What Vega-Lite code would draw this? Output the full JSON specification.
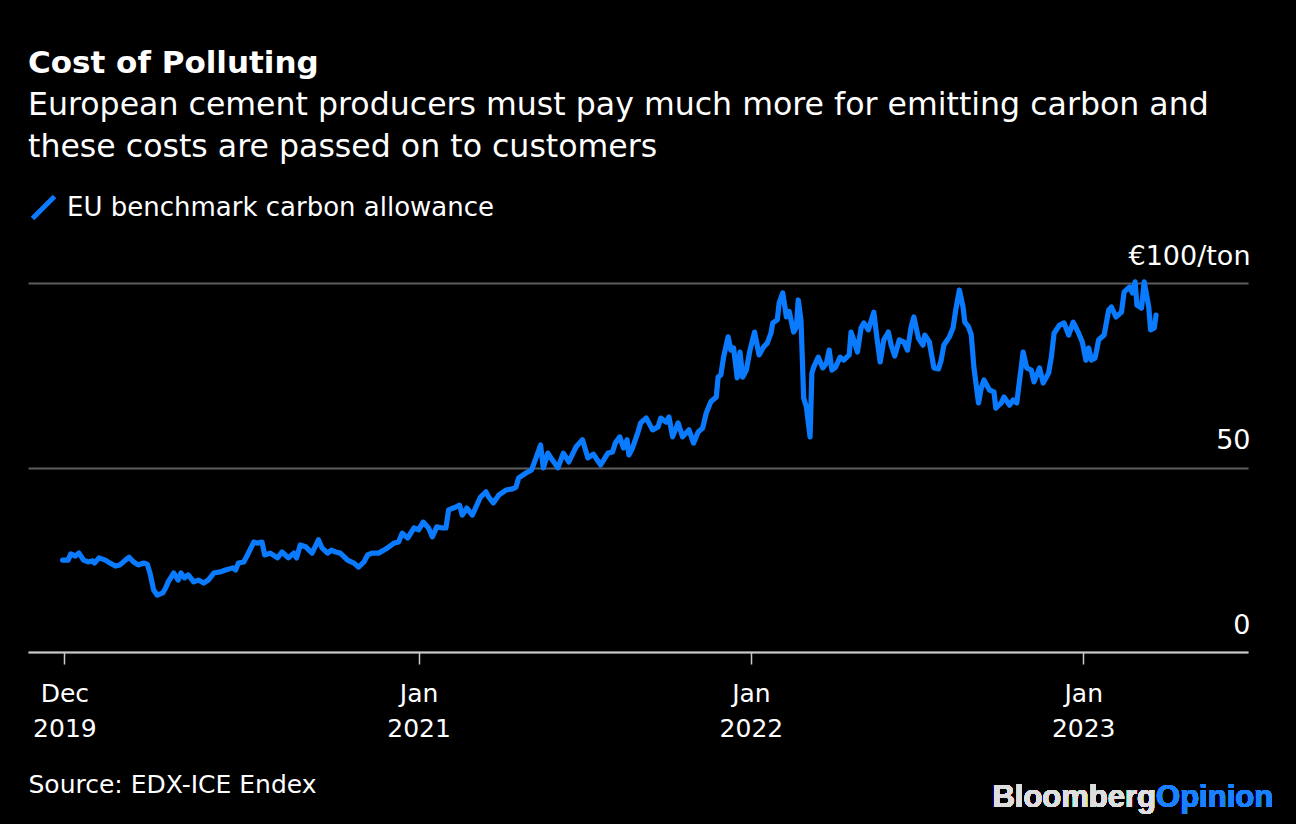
{
  "$schema": "https://vega.github.io/schema/vega-lite/v6.json",
  "width": 1220,
  "height": 369,
  "autosize": {"type": "none"},
  "padding": {"left": 28, "top": 283, "right": 48, "bottom": 172},
  "background": "#000000",
  "config": {
    "view": {"stroke": null},
    "font": "DejaVu Sans"
  },
  "title": {
    "text": "Cost of Polluting",
    "subtitle": ["European cement producers must pay much more for emitting carbon and", "these costs are passed on to customers"],
    "anchor": "start",
    "frame": "group",
    "font": "DejaVu Sans",
    "fontSize": 31,
    "fontWeight": "bold",
    "color": "#ffffff",
    "subtitleFont": "DejaVu Sans",
    "subtitleFontSize": 31.6,
    "subtitleColor": "#ffffff",
    "subtitleLineHeight": 42,
    "subtitlePadding": 10,
    "offset": 29
  },
  "data": {
    "values": [
      {"date": "2019-12-07", "value": 24.9},
      {"date": "2019-12-13", "value": 24.9},
      {"date": "2019-12-16", "value": 26.6},
      {"date": "2019-12-21", "value": 26.0},
      {"date": "2019-12-25", "value": 26.8},
      {"date": "2019-12-30", "value": 24.9},
      {"date": "2020-01-04", "value": 24.4},
      {"date": "2020-01-09", "value": 24.7},
      {"date": "2020-01-11", "value": 24.1},
      {"date": "2020-01-16", "value": 25.5},
      {"date": "2020-01-23", "value": 24.9},
      {"date": "2020-01-28", "value": 24.1},
      {"date": "2020-02-03", "value": 23.3},
      {"date": "2020-02-08", "value": 23.6},
      {"date": "2020-02-14", "value": 24.9},
      {"date": "2020-02-18", "value": 25.7},
      {"date": "2020-02-23", "value": 24.4},
      {"date": "2020-02-28", "value": 23.6},
      {"date": "2020-03-05", "value": 24.1},
      {"date": "2020-03-09", "value": 23.8},
      {"date": "2020-03-12", "value": 21.4},
      {"date": "2020-03-16", "value": 16.8},
      {"date": "2020-03-20", "value": 15.4},
      {"date": "2020-03-26", "value": 16.0},
      {"date": "2020-03-29", "value": 17.3},
      {"date": "2020-04-01", "value": 19.0},
      {"date": "2020-04-07", "value": 21.4},
      {"date": "2020-04-12", "value": 19.5},
      {"date": "2020-04-15", "value": 21.4},
      {"date": "2020-04-19", "value": 20.1},
      {"date": "2020-04-23", "value": 20.9},
      {"date": "2020-04-29", "value": 19.0},
      {"date": "2020-05-04", "value": 19.5},
      {"date": "2020-05-10", "value": 18.7},
      {"date": "2020-05-15", "value": 19.5},
      {"date": "2020-05-21", "value": 21.4},
      {"date": "2020-05-28", "value": 21.7},
      {"date": "2020-06-03", "value": 22.2},
      {"date": "2020-06-11", "value": 22.8},
      {"date": "2020-06-14", "value": 22.2},
      {"date": "2020-06-17", "value": 24.1},
      {"date": "2020-06-23", "value": 24.4},
      {"date": "2020-06-27", "value": 26.3},
      {"date": "2020-07-04", "value": 29.8},
      {"date": "2020-07-08", "value": 29.5},
      {"date": "2020-07-13", "value": 29.8},
      {"date": "2020-07-16", "value": 26.3},
      {"date": "2020-07-22", "value": 26.8},
      {"date": "2020-07-30", "value": 25.5},
      {"date": "2020-08-04", "value": 27.1},
      {"date": "2020-08-11", "value": 25.5},
      {"date": "2020-08-17", "value": 26.8},
      {"date": "2020-08-20", "value": 25.5},
      {"date": "2020-08-24", "value": 29.0},
      {"date": "2020-08-30", "value": 28.5},
      {"date": "2020-09-06", "value": 26.8},
      {"date": "2020-09-13", "value": 30.4},
      {"date": "2020-09-17", "value": 28.2},
      {"date": "2020-09-23", "value": 26.8},
      {"date": "2020-09-27", "value": 27.6},
      {"date": "2020-10-02", "value": 27.1},
      {"date": "2020-10-07", "value": 26.8},
      {"date": "2020-10-15", "value": 24.9},
      {"date": "2020-10-22", "value": 24.1},
      {"date": "2020-10-27", "value": 23.0},
      {"date": "2020-11-02", "value": 24.4},
      {"date": "2020-11-06", "value": 26.3},
      {"date": "2020-11-11", "value": 26.8},
      {"date": "2020-11-18", "value": 26.8},
      {"date": "2020-11-26", "value": 27.9},
      {"date": "2020-12-05", "value": 29.5},
      {"date": "2020-12-10", "value": 29.8},
      {"date": "2020-12-14", "value": 32.2},
      {"date": "2020-12-20", "value": 30.9},
      {"date": "2020-12-27", "value": 33.6},
      {"date": "2021-01-01", "value": 33.1},
      {"date": "2021-01-06", "value": 35.2},
      {"date": "2021-01-12", "value": 33.6},
      {"date": "2021-01-16", "value": 31.2},
      {"date": "2021-01-21", "value": 33.9},
      {"date": "2021-01-27", "value": 33.6},
      {"date": "2021-01-31", "value": 33.6},
      {"date": "2021-02-03", "value": 38.5},
      {"date": "2021-02-11", "value": 39.3},
      {"date": "2021-02-15", "value": 39.8},
      {"date": "2021-02-18", "value": 37.1},
      {"date": "2021-02-23", "value": 39.0},
      {"date": "2021-03-01", "value": 37.1},
      {"date": "2021-03-10", "value": 42.0},
      {"date": "2021-03-16", "value": 43.4},
      {"date": "2021-03-19", "value": 42.0},
      {"date": "2021-03-24", "value": 40.4},
      {"date": "2021-03-30", "value": 42.5},
      {"date": "2021-04-07", "value": 43.9},
      {"date": "2021-04-14", "value": 44.2},
      {"date": "2021-04-18", "value": 44.7},
      {"date": "2021-04-21", "value": 47.2},
      {"date": "2021-04-29", "value": 48.5},
      {"date": "2021-05-05", "value": 49.3},
      {"date": "2021-05-10", "value": 52.6},
      {"date": "2021-05-15", "value": 56.1},
      {"date": "2021-05-18", "value": 49.9},
      {"date": "2021-05-23", "value": 53.9},
      {"date": "2021-05-28", "value": 52.0},
      {"date": "2021-06-03", "value": 49.9},
      {"date": "2021-06-09", "value": 53.9},
      {"date": "2021-06-15", "value": 51.5},
      {"date": "2021-06-23", "value": 55.6},
      {"date": "2021-06-30", "value": 57.5},
      {"date": "2021-07-06", "value": 52.6},
      {"date": "2021-07-12", "value": 53.6},
      {"date": "2021-07-20", "value": 50.7},
      {"date": "2021-07-28", "value": 53.9},
      {"date": "2021-08-02", "value": 54.2},
      {"date": "2021-08-05", "value": 56.6},
      {"date": "2021-08-10", "value": 58.3},
      {"date": "2021-08-14", "value": 55.3},
      {"date": "2021-08-18", "value": 57.5},
      {"date": "2021-08-20", "value": 53.4},
      {"date": "2021-08-24", "value": 55.3},
      {"date": "2021-08-30", "value": 59.6},
      {"date": "2021-09-02", "value": 62.1},
      {"date": "2021-09-08", "value": 63.4},
      {"date": "2021-09-15", "value": 60.2},
      {"date": "2021-09-21", "value": 61.0},
      {"date": "2021-09-24", "value": 63.4},
      {"date": "2021-09-30", "value": 62.3},
      {"date": "2021-10-03", "value": 63.7},
      {"date": "2021-10-07", "value": 58.3},
      {"date": "2021-10-13", "value": 62.1},
      {"date": "2021-10-18", "value": 58.3},
      {"date": "2021-10-25", "value": 60.2},
      {"date": "2021-10-30", "value": 56.6},
      {"date": "2021-11-04", "value": 59.6},
      {"date": "2021-11-09", "value": 60.7},
      {"date": "2021-11-13", "value": 64.8},
      {"date": "2021-11-18", "value": 67.8},
      {"date": "2021-11-24", "value": 69.1},
      {"date": "2021-11-26", "value": 74.5},
      {"date": "2021-11-29", "value": 75.1},
      {"date": "2021-12-02", "value": 79.9},
      {"date": "2021-12-07", "value": 85.4},
      {"date": "2021-12-10", "value": 81.8},
      {"date": "2021-12-13", "value": 82.4},
      {"date": "2021-12-17", "value": 74.3},
      {"date": "2021-12-20", "value": 81.3},
      {"date": "2021-12-23", "value": 74.5},
      {"date": "2021-12-27", "value": 76.4},
      {"date": "2021-12-31", "value": 81.8},
      {"date": "2022-01-05", "value": 86.7},
      {"date": "2022-01-10", "value": 80.5},
      {"date": "2022-01-15", "value": 82.7},
      {"date": "2022-01-19", "value": 83.7},
      {"date": "2022-01-23", "value": 86.4},
      {"date": "2022-01-25", "value": 89.2},
      {"date": "2022-01-30", "value": 90.0},
      {"date": "2022-02-01", "value": 94.6},
      {"date": "2022-02-05", "value": 97.3},
      {"date": "2022-02-09", "value": 90.8},
      {"date": "2022-02-12", "value": 92.3},
      {"date": "2022-02-17", "value": 86.7},
      {"date": "2022-02-20", "value": 88.1},
      {"date": "2022-02-22", "value": 95.4},
      {"date": "2022-02-25", "value": 90.0},
      {"date": "2022-02-28", "value": 68.8},
      {"date": "2022-03-03", "value": 66.4},
      {"date": "2022-03-07", "value": 58.3},
      {"date": "2022-03-09", "value": 75.6},
      {"date": "2022-03-11", "value": 77.2},
      {"date": "2022-03-16", "value": 79.9},
      {"date": "2022-03-21", "value": 77.0},
      {"date": "2022-03-25", "value": 78.3},
      {"date": "2022-03-28", "value": 81.8},
      {"date": "2022-03-31", "value": 76.4},
      {"date": "2022-04-04", "value": 77.2},
      {"date": "2022-04-09", "value": 79.9},
      {"date": "2022-04-13", "value": 79.1},
      {"date": "2022-04-19", "value": 80.5},
      {"date": "2022-04-21", "value": 86.7},
      {"date": "2022-04-24", "value": 84.6},
      {"date": "2022-04-28", "value": 81.3},
      {"date": "2022-05-02", "value": 87.8},
      {"date": "2022-05-05", "value": 89.2},
      {"date": "2022-05-10", "value": 87.3},
      {"date": "2022-05-16", "value": 92.1},
      {"date": "2022-05-20", "value": 84.0},
      {"date": "2022-05-23", "value": 78.6},
      {"date": "2022-05-27", "value": 84.6},
      {"date": "2022-06-01", "value": 86.7},
      {"date": "2022-06-04", "value": 83.2},
      {"date": "2022-06-08", "value": 80.2},
      {"date": "2022-06-13", "value": 84.6},
      {"date": "2022-06-18", "value": 84.0},
      {"date": "2022-06-22", "value": 81.8},
      {"date": "2022-06-26", "value": 88.1},
      {"date": "2022-06-29", "value": 90.8},
      {"date": "2022-07-04", "value": 85.1},
      {"date": "2022-07-09", "value": 83.2},
      {"date": "2022-07-11", "value": 85.9},
      {"date": "2022-07-16", "value": 84.0},
      {"date": "2022-07-21", "value": 77.0},
      {"date": "2022-07-26", "value": 76.7},
      {"date": "2022-07-29", "value": 79.1},
      {"date": "2022-08-01", "value": 83.2},
      {"date": "2022-08-07", "value": 85.4},
      {"date": "2022-08-11", "value": 87.8},
      {"date": "2022-08-14", "value": 92.7},
      {"date": "2022-08-18", "value": 98.1},
      {"date": "2022-08-22", "value": 93.5},
      {"date": "2022-08-24", "value": 89.4},
      {"date": "2022-08-28", "value": 88.1},
      {"date": "2022-08-31", "value": 86.0},
      {"date": "2022-09-03", "value": 77.0},
      {"date": "2022-09-08", "value": 67.5},
      {"date": "2022-09-11", "value": 71.5},
      {"date": "2022-09-14", "value": 73.7},
      {"date": "2022-09-20", "value": 71.0},
      {"date": "2022-09-25", "value": 70.5},
      {"date": "2022-09-27", "value": 66.1},
      {"date": "2022-10-03", "value": 67.5},
      {"date": "2022-10-06", "value": 69.1},
      {"date": "2022-10-12", "value": 66.9},
      {"date": "2022-10-16", "value": 68.3},
      {"date": "2022-10-20", "value": 67.5},
      {"date": "2022-10-27", "value": 81.3},
      {"date": "2022-10-31", "value": 77.0},
      {"date": "2022-11-05", "value": 76.4},
      {"date": "2022-11-08", "value": 73.2},
      {"date": "2022-11-14", "value": 77.0},
      {"date": "2022-11-18", "value": 72.9},
      {"date": "2022-11-24", "value": 75.6},
      {"date": "2022-11-27", "value": 79.9},
      {"date": "2022-11-30", "value": 86.4},
      {"date": "2022-12-06", "value": 88.6},
      {"date": "2022-12-11", "value": 89.2},
      {"date": "2022-12-16", "value": 85.9},
      {"date": "2022-12-21", "value": 89.4},
      {"date": "2022-12-27", "value": 86.4},
      {"date": "2022-12-31", "value": 84.0},
      {"date": "2023-01-04", "value": 79.1},
      {"date": "2023-01-07", "value": 82.4},
      {"date": "2023-01-10", "value": 79.1},
      {"date": "2023-01-14", "value": 79.7},
      {"date": "2023-01-18", "value": 84.6},
      {"date": "2023-01-24", "value": 85.9},
      {"date": "2023-01-29", "value": 92.7},
      {"date": "2023-02-01", "value": 93.5},
      {"date": "2023-02-06", "value": 90.8},
      {"date": "2023-02-12", "value": 92.1},
      {"date": "2023-02-15", "value": 97.6},
      {"date": "2023-02-21", "value": 98.9},
      {"date": "2023-02-24", "value": 97.3},
      {"date": "2023-02-27", "value": 100.3},
      {"date": "2023-03-01", "value": 94.0},
      {"date": "2023-03-06", "value": 93.2},
      {"date": "2023-03-09", "value": 100.3},
      {"date": "2023-03-14", "value": 93.5},
      {"date": "2023-03-16", "value": 87.3},
      {"date": "2023-03-20", "value": 87.8},
      {"date": "2023-03-22", "value": 91.3}
    ]
  },
  "encoding": {
    "x": {
      "field": "date",
      "type": "temporal",
      "scale": {
        "type": "utc",
        "domain": [
          {"year": 2019, "month": 10, "date": 30, "utc": true},
          {"year": 2023, "month": 7, "date": 1, "utc": true}
        ]
      },
      "axis": {
        "values": [
          {"year": 2019, "month": 12, "date": 9, "utc": true},
          {"year": 2021, "month": 1, "date": 1, "utc": true},
          {"year": 2022, "month": 1, "date": 1, "utc": true},
          {"year": 2023, "month": 1, "date": 1, "utc": true}
        ],
        "labelExpr": "[utcFormat(datum.value, '%b'), utcFormat(datum.value, '%Y')]",
        "grid": false,
        "zindex": 2,
        "domainColor": "#c8c8c8",
        "domainWidth": 2,
        "tickColor": "#c8c8c8",
        "tickWidth": 1.5,
        "tickSize": 12,
        "labelColor": "#ffffff",
        "labelFont": "DejaVu Sans",
        "labelFontSize": 25,
        "labelLineHeight": 35,
        "labelPadding": 17,
        "labelFlush": false,
        "labelOverlap": false,
        "title": "Source: EDX-ICE Endex",
        "titleAnchor": "start",
        "titleAlign": "left",
        "titleFont": "DejaVu Sans",
        "titleFontWeight": "normal",
        "titleFontSize": 25,
        "titleColor": "#ffffff",
        "titlePadding": 31
      }
    },
    "y": {
      "field": "value",
      "type": "quantitative",
      "scale": {"domain": [0, 100]},
      "axis": {
        "orient": "right",
        "values": [0, 50, 100],
        "labelExpr": "datum.value == 100 ? '€100/ton' : datum.label",
        "grid": true,
        "gridColor": "#5c5c5c",
        "gridWidth": 2,
        "domain": false,
        "ticks": false,
        "labelAlign": "right",
        "labelBaseline": "alphabetic",
        "labelOffset": -19,
        "labelPadding": 2,
        "labelColor": "#ffffff",
        "labelFont": "DejaVu Sans",
        "labelFontSize": 27,
        "title": null
      }
    }
  },
  "layer": [
    {
      "mark": {"type": "line", "strokeWidth": 5.2, "strokeJoin": "round", "strokeCap": "round"},
      "encoding": {
        "color": {
          "datum": "EU benchmark carbon allowance",
          "type": "nominal",
          "scale": {"range": ["#0a7bff"]},
          "legend": {
            "title": null,
            "orient": "none",
            "legendX": 2,
            "legendY": -89,
            "symbolType": "M -1 1 L 1 -1",
            "symbolStrokeWidth": 5,
            "symbolSize": 484,
            "symbolStrokeColor": "#0a7bff",
            "labelColor": "#ffffff",
            "labelFont": "DejaVu Sans",
            "labelFontSize": 26,
            "labelOffset": 10,
            "labelLimit": 800,
            "padding": 0
          }
        }
      }
    },
    {
      "mark": {"type": "text", "align": "right", "baseline": "alphabetic", "font": "Liberation Sans", "fontWeight": "bold", "fontSize": 31, "color": "#dedede"},
      "encoding": {
        "x": {"datum": {"year": 2023, "month": 3, "date": 22, "utc": true}, "type": "temporal"},
        "y": {"datum": -42, "type": "quantitative"},
        "text": {"value": "Bloomberg"}
      }
    },
    {
      "mark": {"type": "text", "align": "left", "baseline": "alphabetic", "font": "Liberation Sans", "fontWeight": "bold", "fontSize": 31, "color": "#1a80ff"},
      "encoding": {
        "x": {"datum": {"year": 2023, "month": 3, "date": 22, "utc": true}, "type": "temporal"},
        "y": {"datum": -42, "type": "quantitative"},
        "text": {"value": "Opinion"}
      }
    }
  ]
}
